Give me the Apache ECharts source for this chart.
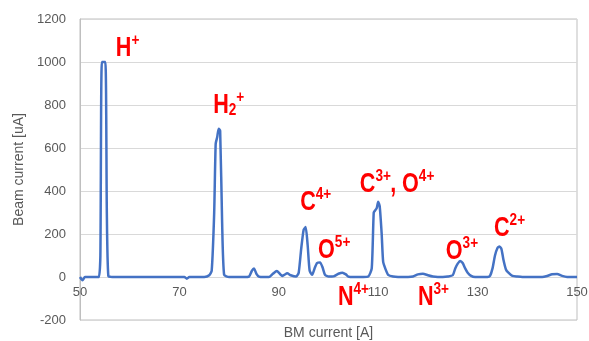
<!DOCTYPE html>
<html><head><meta charset="utf-8">
<script src="https://cdn.jsdelivr.net/npm/echarts@6/dist/echarts.min.js"></script>
<style>html,body{margin:0;padding:0;background:#fff}#c{width:589px;height:341px}</style>
</head><body><div id="c"></div>
<script>
const bmCurrent = [50,50.5,51,52,53,53.8,54.1,54.4,55.1,55.4,55.7,56.5,58,60,62,64,66,68,70,71,71.5,72,73,74,75,76,76.5,77,77.3,77.6,77.9,78.2,78.6,79,80,81,82,83,84,84.6,85,85.5,86,87,88,88.8,89.6,90.2,90.7,91.1,91.7,92.4,93.5,94,94.5,95,95.4,95.8,96.2,96.7,97.2,97.7,98.3,98.8,99.3,100,101,102,102.8,103.5,104,105,106,107,108,108.7,109.1,109.4,109.7,110,110.3,110.7,111,111.5,112,113,114,115,116,117,118,119,120,121,122,123,124,125,125.5,126,126.5,127,127.5,128,128.7,129.5,130,131,132,132.5,133,133.5,134,134.4,134.8,135.2,135.7,136.2,137,138,139,140,141,142,143,144,145,146,147,148,149,150];
const beamCurrent = [0,-15,0,0,0,0,100,1000,1000,300,5,0,0,0,0,0,0,0,0,0,-8,0,0,0,0,8,30,300,620,650,690,680,250,10,0,0,0,0,2,30,40,15,2,0,0,15,28,15,5,10,17,8,2,20,130,220,232,150,30,10,40,65,68,45,10,2,3,15,20,12,2,0,0,0,2,40,300,310,320,350,330,200,70,35,10,2,0,0,0,2,12,15,8,2,0,0,2,8,40,62,75,65,40,20,5,0,0,0,0,5,40,100,135,142,130,80,35,20,5,2,0,0,0,0,0,5,13,14,5,0,0,0];
const xTicks = [50,70,90,110,130,150];
const yTicks = [-200,0,200,400,600,800,1000,1200];
// labels: [base, subscript, superscript, x, y] (x,y = left/baseline in data units)
const ionLabels = [
  ['H','','+',57.2,1028],
  ['H','2','+',76.8,763],
  ['C','','4+',94.3,312],
  ['O','','5+',97.9,88],
  ['N','','4+',101.9,-130],
  ['C','','3+',106.3,395],
  [',','','',112.4,395],
  ['O','','4+',114.8,395],
  ['N','','3+',118.0,-130],
  ['O','','3+',123.6,84],
  ['C','','2+',133.3,191]
];
const chart = echarts.init(document.getElementById('c'));
const gray = '#595959';
chart.setOption({
  animation:false,
  grid:{left:80,right:12,top:19,bottom:21,outerBoundsMode:'none',containLabel:false,show:true,borderColor:'#bfbfbf',borderWidth:1},
  xAxis:{type:'value',min:50,max:150,interval:20,
    name:'BM current [A]',nameLocation:'middle',nameGap:49,
    nameTextStyle:{color:gray,fontSize:14,fontFamily:'Liberation Sans'},
    axisLine:{show:true,onZero:false,lineStyle:{color:'#d9d9d9'}},axisTick:{show:false},splitLine:{show:false},
    axisLabel:{color:gray,fontSize:13,fontFamily:'Liberation Sans',margin:9,
      formatter:v=>xTicks.includes(v)?String(v):''}},
  yAxis:{type:'value',min:-200,max:1200,interval:200,
    name:'Beam current [uA]',nameLocation:'middle',nameGap:53,
    nameTextStyle:{color:gray,fontSize:14,fontFamily:'Liberation Sans'},
    axisLine:{show:true,lineStyle:{color:'#bfbfbf'}},axisTick:{show:false},
    splitLine:{lineStyle:{color:'#d9d9d9'}},
    axisLabel:{color:gray,fontSize:13,fontFamily:'Liberation Sans',margin:14,
      formatter:v=>yTicks.includes(v)?String(v):''}},
  series:[{type:'line',data:bmCurrent.map((x,i)=>[x,beamCurrent[i]]),showSymbol:false,
    smooth:0.2,lineStyle:{color:'#4472C4',width:2.5},itemStyle:{color:'#4472C4'}}]
});
// move the x axis (line + labels) to y = 0
const zeroY = chart.convertToPixel({gridIndex:0},[50,0])[1];
const bottomY = chart.convertToPixel({gridIndex:0},[50,-200])[1];
chart.setOption({xAxis:{offset:zeroY-bottomY}});
const fam = 'Liberation Sans';
const rich = {
  b:{fontSize:27,fontWeight:'bold',fontFamily:fam,fill:'#ff0000',lineHeight:30,verticalAlign:'bottom'},
  sub:{fontSize:17,fontWeight:'bold',fontFamily:fam,fill:'#ff0000',lineHeight:30,verticalAlign:'bottom'},
  sup:{fontSize:17,fontWeight:'bold',fontFamily:fam,fill:'#ff0000',lineHeight:30,verticalAlign:'top'}
};
const g = ionLabels.map(l=>{
  const p = chart.convertToPixel({gridIndex:0},[l[3],l[4]]);
  let t = '{b|'+l[0]+'}';
  if(l[1]) t += '{sub|'+l[1]+'}';
  if(l[2]) t += '{sup|'+l[2]+'}';
  return {type:'text',x:p[0],y:p[1]+6,scaleX:0.8,style:{text:t,rich:rich,align:'left',verticalAlign:'bottom'},z:100};
});
chart.setOption({graphic:g});
</script></body></html>
